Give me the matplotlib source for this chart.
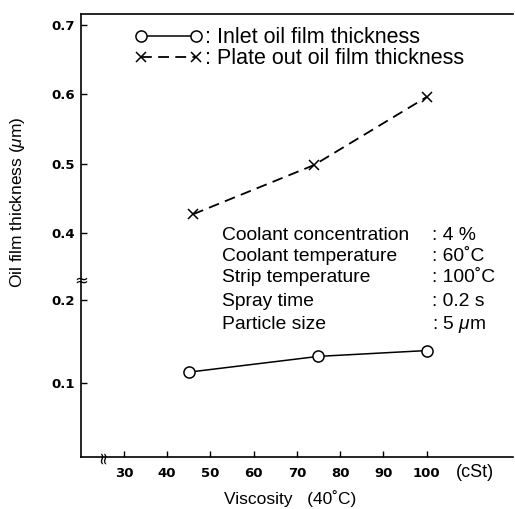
import numpy as np
import matplotlib
matplotlib.use("Agg")
import matplotlib.pyplot as plt

plt.rcParams["font.family"] = ["Liberation Sans", "DejaVu Sans"]
plt.rcParams["mathtext.fontset"] = "custom"
plt.rcParams["mathtext.it"] = "Liberation Sans:italic"

# data
viscosity_inlet = [45, 75, 100]
inlet_thickness = [0.113, 0.132, 0.139]
viscosity_plate = [46, 74, 100]
plate_thickness = [0.427, 0.498, 0.596]

x_ticks = [30, 40, 50, 60, 70, 80, 90, 100]
y_ticks = [0.1, 0.2, 0.4, 0.5, 0.6, 0.7]
y_tick_labels = ["0.1", "0.2", "0.4", "0.5", "0.6", "0.7"]

cond_names = ["Coolant concentration", "Coolant temperature",
              "Strip temperature", "Spray time", "Particle size"]
cond_values = [": 4 %", ": 60\u02daC", ": 100\u02daC", ": 0.2 s", r": 5 $\mathit{\mu}$m"]

# broken y axis: 0.2-0.4 squeezed, upper part slightly compressed
knots_v = [-1.0, 0.2, 0.4, 2.0]
knots_d = [-1.0, 0.2, 0.2807, 0.2807 + 1.6 * 0.835]


def fwd(v):
    return np.interp(v, knots_v, knots_d)


def inv(d):
    return np.interp(d, knots_d, knots_v)


fig = plt.figure(figsize=(5.15, 5.09), dpi=100)
ax = fig.add_axes([0.1567, 0.1022, 0.8394, 0.8703])
ax.set_yscale("function", functions=(fwd, inv))

inlet, = ax.plot(viscosity_inlet, inlet_thickness, color="black", lw=1.1,
                 marker="o", ms=8, mfc="white", mec="black", mew=1.1)
plate, = ax.plot(viscosity_plate, plate_thickness, color="black", lw=1.3,
                 linestyle=(0, (6, 3.5)), marker="x", ms=7, mew=1.1)

ax.set_xlim(20, 120)
ax.set_ylim(0.0108, 0.7159)

ax.set_xticks(x_ticks)
ax.set_xticklabels([str(v) for v in x_ticks])
ax.set_yticks(y_ticks)
ax.set_yticklabels(y_tick_labels)
ax.minorticks_off()
for lab in ax.get_xticklabels() + ax.get_yticklabels():
    lab.set_family("DejaVu Sans")
    lab.set_fontweight("bold")
    lab.set_fontsize(9.5)
ax.tick_params(axis="x", direction="in", length=4, width=1, pad=7)
ax.tick_params(axis="y", direction="in", length=4, width=1, pad=4)

ax.spines["right"].set_visible(False)
for s in ["left", "bottom", "top"]:
    ax.spines[s].set_linewidth(1.2)

# axis break marks
ax.text(0, 0.3995, "\u2248", transform=ax.transAxes, ha="center", va="center",
        fontsize=12, family="DejaVu Sans")
ax.text(0.0516, 0, "\u2248", transform=ax.transAxes, ha="center", va="center",
        fontsize=12, rotation=90, family="DejaVu Sans")

ax.set_xlabel("Viscosity   (40\u02daC)", fontsize=12.5)
ax.xaxis.set_label_coords(0.484, -0.074)
ax.set_ylabel(r"Oil film thickness ($\mathit{\mu}$m)", fontsize=12.5)
ax.yaxis.set_label_coords(-0.124, 0.575)
ax.text(0.912, -0.034, "(cSt)", transform=ax.transAxes, ha="center",
        va="center", fontsize=13)

leg = ax.legend([inlet, plate],
                [": Inlet oil film thickness", ": Plate out oil film thickness"],
                loc="upper left", bbox_to_anchor=(0.1245, 0.97), frameon=False,
                numpoints=2, handlelength=3.16, handletextpad=0.1,
                labelspacing=0.0, borderpad=0, borderaxespad=0, fontsize=15.5)

row_y = [0.4995, 0.4521, 0.4041, 0.3521, 0.298]
for name, val, y in zip(cond_names, cond_values, row_y):
    ax.text(0.327, y, name, transform=ax.transAxes, va="center", fontsize=13.9)
    ax.text(0.8126, y, val, transform=ax.transAxes, va="center", fontsize=13.9)

fig.savefig("out.png", dpi=100)
